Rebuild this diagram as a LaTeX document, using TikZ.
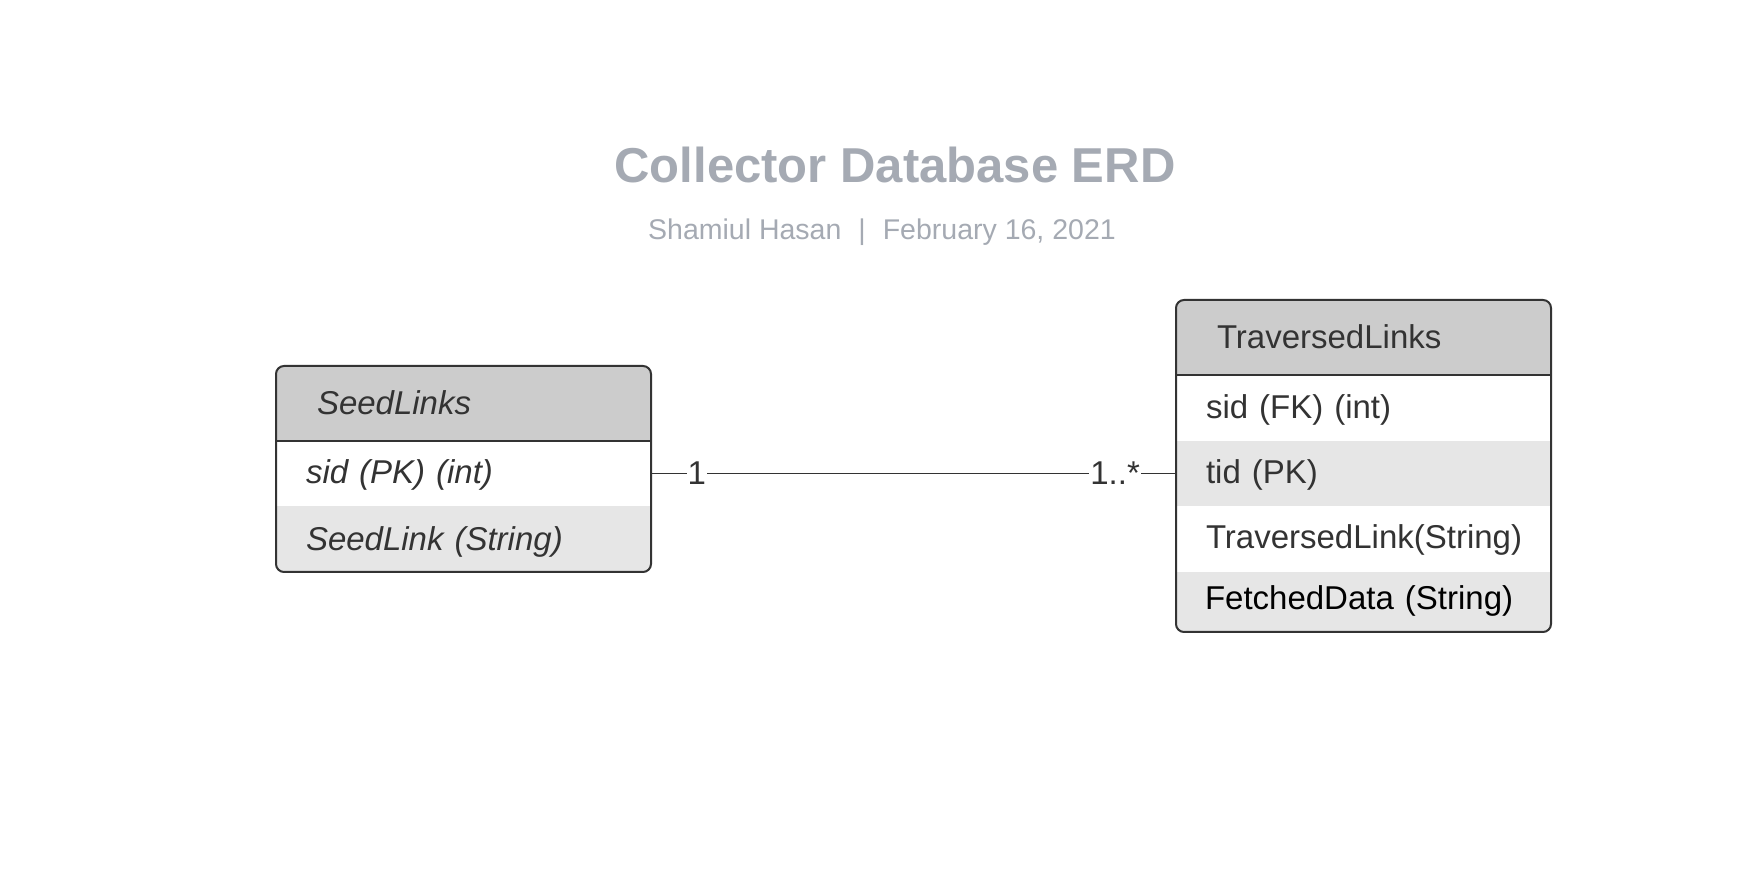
\documentclass[tikz,border=0pt]{standalone}
\usepackage{fontspec}
\setmainfont{Liberation Sans}
\usetikzlibrary{positioning,backgrounds}

\definecolor{titlegray}{HTML}{A5AAB3}
\definecolor{inkgray}{HTML}{333333}
\definecolor{headgray}{HTML}{CCCCCC}
\definecolor{rowgray}{HTML}{E6E6E6}
\newcommand{\erdfont}{\fontsize{33}{40}\selectfont}

\begin{document}
\begin{tikzpicture}[x=1pt,y=1pt,node distance=0pt,
  cell/.style={minimum width=375pt,minimum height=#1,inner ysep=0pt,
    inner xsep=30pt,text width=315pt,align=left,text depth=6pt,
    outer sep=0pt,font=\erdfont,text=inkgray},
  head/.style={cell=75pt,inner xsep=41pt,text width=293pt},
  slant/.style={font=\erdfont\itshape},
  frame/.style={draw=inkgray,line width=2pt,rounded corners=8pt},
  card/.style={fill=white,inner xsep=1pt,inner ysep=2pt,font=\erdfont,text=inkgray}]
  \useasboundingbox (0,0) rectangle (1759,894);

  % Title
  \node[font=\fontsize{49}{58}\selectfont\bfseries,text=titlegray,anchor=base]
    (title) at (895,711) {Collector Database ERD};
  \node[font=\fontsize{28.5}{34}\selectfont,text=titlegray,anchor=base]
    (byline) at (882,654) {Shamiul Hasan\hspace{17pt}|\hspace{17pt}February 16, 2021};

  % SeedLinks table
  \node[head,slant,text height=27.5pt] (slhead) at (463.5,490.5) {SeedLinks};
  \node[cell=65pt,slant,text height=25.5pt,below=of slhead] (slsid) {sid (PK) (int)};
  \node[cell=66pt,slant,text height=28.5pt,below=of slsid] (sllink) {SeedLink (String)};

  % TraversedLinks table
  \node[head,text height=27.5pt] (tlhead) at (1363.5,556.5) {TraversedLinks};
  \node[cell=66pt,text height=27.5pt,below=of tlhead] (tlsid) {sid (FK) (int)};
  \node[cell=65pt,text height=26.5pt,below=of tlsid] (tltid) {tid (PK)};
  \node[cell=66pt,text height=26pt,below=of tltid] (tllink) {TraversedLink(String)};
  \node[cell=60pt,text height=20.5pt,inner xsep=29pt,text width=317pt,text=black,
    below=of tllink] (tldata) {FetchedData (String)};

  % Row shading
  \begin{scope}[on background layer]
    \fill[white] (0,0) rectangle (1759,894);
    \begin{scope}
      \clip[rounded corners=8pt] (slhead.north west) rectangle (sllink.south east);
      \fill[headgray] (slhead.north west) rectangle (slhead.south east);
      \fill[rowgray] (sllink.north west) rectangle (sllink.south east);
    \end{scope}
    \begin{scope}
      \clip[rounded corners=8pt] (tlhead.north west) rectangle (tldata.south east);
      \fill[headgray] (tlhead.north west) rectangle (tlhead.south east);
      \fill[rowgray] (tltid.north west) rectangle (tltid.south east);
      \fill[rowgray] (tldata.north west) rectangle (tldata.south east);
    \end{scope}
  \end{scope}

  % Borders
  \draw[frame] (slhead.north west) rectangle (sllink.south east);
  \draw[inkgray,line width=2pt] (slhead.south west) -- (slhead.south east);
  \draw[frame] (tlhead.north west) rectangle (tldata.south east);
  \draw[inkgray,line width=2pt] (tlhead.south west) -- (tlhead.south east);

  % Relationship
  \draw[inkgray,line width=1.5pt] (slsid.east)
    -- node[card,pos=0.087] (one) {1}
       node[card,pos=0.884] (many) {1..*} (tltid.west);
\end{tikzpicture}
\end{document}
